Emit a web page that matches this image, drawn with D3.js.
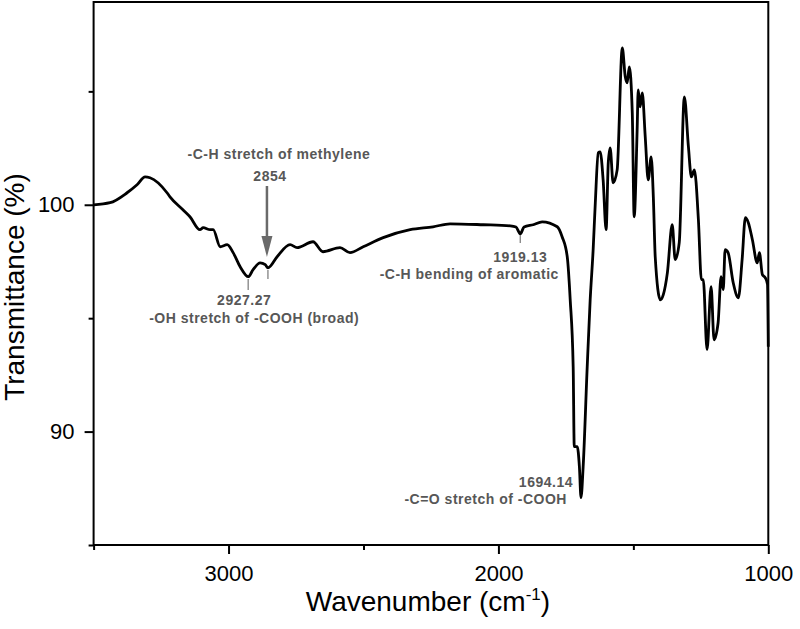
<!DOCTYPE html>
<html>
<head>
<meta charset="utf-8">
<script src="https://cdn.jsdelivr.net/npm/d3@7"></script>
<style>
  html, body { margin: 0; padding: 0; background: #fff; }
  svg { display: block; }
  text { font-family: "Liberation Sans", Arial, sans-serif; }
</style>
</head>
<body>
<svg id="chart" width="800" height="629"></svg>
<script>
// ---- data (wavenumber cm-1, transmittance %) ----
const wavenumber = [3500,3439,3376,3339,3309,3291,3228,3217,3169,3143,3106,3094,3068,3057,3031,3005,2983,2957,2927,2909,2883,2864,2854,2820,2772,2746,2687,2650,2587,2550,2501,2427,2327,2242,2179,2056,1956,1935,1919,1905,1871,1838,1782,1764,1745,1734,1723,1719,1708,1700,1694,1686,1671,1660,1649,1641,1630,1623,1612,1601,1593,1586,1575,1560,1541,1530,1523,1515,1504,1497,1486,1482,1475,1467,1456,1445,1434,1426,1419,1400,1389,1374,1356,1345,1330,1311,1296,1285,1274,1259,1248,1241,1227,1212,1201,1186,1175,1167,1160,1149,1130,1111,1097,1085,1074,1059,1041,1033,1022,1011,1003,1000];
const transmittance = [100.0,100.09,100.53,100.88,101.23,101.19,100.53,100.35,99.78,99.47,98.90,98.99,98.90,98.90,98.15,98.24,97.89,97.27,96.83,97.14,97.44,97.36,97.22,97.71,98.24,98.11,98.37,97.93,98.11,97.89,98.15,98.55,98.90,99.03,99.16,99.12,99.07,99.02,98.72,99.02,99.12,99.25,99.03,98.59,97.71,95.81,92.86,89.34,89.34,88.46,87.09,88.46,92.86,95.81,98.02,100.09,102.29,102.33,101.10,98.90,101.85,102.51,100.97,101.54,106.92,105.64,105.37,106.08,104.05,99.47,103.30,105.07,104.32,104.93,103.00,101.10,102.11,100.35,97.71,95.81,96.04,97.00,99.12,97.58,98.33,104.76,102.56,101.23,101.54,99.34,96.70,96.70,93.61,96.39,94.05,94.80,96.83,96.26,98.02,97.89,96.56,95.90,97.58,99.43,99.21,98.46,97.44,97.89,96.92,96.78,96.5,93.74];

const xMajorTicks = [3000, 2000, 1000];
const xMinorTicks = [3500, 2500, 1500];
const yMajorTicks = [90, 100];
const yMinorTicks = [85, 95, 105];

const xTitle = "Wavenumber (cm";
const xTitleSup = "-1";
const yTitle = "Transmittance (%)";

const annotations = {
  methyleneLabel: "-C-H  stretch of methylene",
  methyleneValue: "2854",
  ohValue: "2927.27",
  ohLabel: "-OH stretch of -COOH (broad)",
  aromValue: "1919.13",
  aromLabel: "-C-H bending of aromatic",
  coValue: "1694.14",
  coLabel: "-C=O stretch of -COOH"
};
const markWn = { methylene: 2854, oh: 2927.27, arom: 1919.13, co: 1694.14 };

// ---- layout ----
const svg = d3.select("#chart");
const L = 93.6, R = 768.3, T = 2, B = 545;
const x = d3.scaleLinear().domain([3500, 1000]).range([L, R]);
const y = d3.scaleLinear().domain([85, 108.94]).range([B, T]);

// frame
svg.append("rect").attr("x", L).attr("y", T).attr("width", R - L).attr("height", B - T)
  .attr("fill", "none").attr("stroke", "#000").attr("stroke-width", 2);

// x axis
const xAxisG = svg.append("g").attr("transform", `translate(0,${B})`);
xAxisG.call(d3.axisBottom(x).tickValues(xMajorTicks).tickSize(9).tickPadding(11).tickFormat(d3.format("d")));
xAxisG.append("g").call(d3.axisBottom(x).tickValues(xMinorTicks).tickSize(5).tickFormat(""));
xAxisG.selectAll(".domain").remove();
xAxisG.selectAll("line").attr("stroke", "#000").attr("stroke-width", 2);
xAxisG.selectAll("text").attr("font-size", 22).attr("fill", "#000")
  .style("font-family", '"Liberation Sans", Arial, sans-serif');

// y axis
const yAxisG = svg.append("g").attr("transform", `translate(${L},0)`);
yAxisG.call(d3.axisLeft(y).tickValues(yMajorTicks).tickSize(9).tickPadding(10).tickFormat(d3.format("d")));
yAxisG.append("g").call(d3.axisLeft(y).tickValues(yMinorTicks).tickSize(5).tickFormat(""));
yAxisG.selectAll(".domain").remove();
yAxisG.selectAll("line").attr("stroke", "#000").attr("stroke-width", 2);
yAxisG.selectAll("text").attr("font-size", 22).attr("fill", "#000")
  .style("font-family", '"Liberation Sans", Arial, sans-serif');

// titles
const xt = svg.append("text").attr("x", (L + R) / 2 - 3).attr("y", 611)
  .attr("text-anchor", "middle").attr("font-size", 28).attr("fill", "#000");
xt.append("tspan").text(xTitle);
xt.append("tspan").attr("dy", -11).attr("font-size", 17).text(xTitleSup);
xt.append("tspan").attr("dy", 11).text(")");

svg.append("text").attr("transform", `translate(24,${287}) rotate(-90)`)
  .attr("text-anchor", "middle").attr("font-size", 28).attr("fill", "#000").text(yTitle);

// spectrum
const data = wavenumber.map((w, i) => ({ w, t: transmittance[i] }));
svg.append("path").datum(data)
  .attr("fill", "none").attr("stroke", "#000").attr("stroke-width", 2.8)
  .attr("stroke-linejoin", "round")
  .attr("d", d3.line().x(d => x(d.w)).y(d => y(d.t)).curve(d3.curveMonotoneX));

// annotations
const grey = "#575757";
const ann = svg.append("g").attr("font-weight", "bold").attr("font-size", 14)
  .attr("letter-spacing", 0.5).attr("fill", grey)
  .style("white-space", "pre");

const xm = x(markWn.methylene);
ann.append("text").attr("x", xm + 11).attr("y", 159).attr("text-anchor", "middle").text(annotations.methyleneLabel);
ann.append("text").attr("x", xm + 2).attr("y", 181).attr("text-anchor", "middle").text(annotations.methyleneValue);
// arrow
svg.append("line").attr("x1", xm - 1).attr("x2", xm - 1).attr("y1", 186).attr("y2", 240)
  .attr("stroke", "#6a6a6a").attr("stroke-width", 2.5);
svg.append("path").attr("d", `M${xm - 6.5},236 L${xm + 4.5},236 L${xm - 1},257 Z`).attr("fill", "#6a6a6a");
// small marker lines
svg.append("line").attr("x1", xm).attr("x2", xm).attr("y1", 270).attr("y2", 279)
  .attr("stroke", "#777").attr("stroke-width", 1.2);

const xo = x(markWn.oh);
svg.append("line").attr("x1", xo).attr("x2", xo).attr("y1", 279).attr("y2", 290)
  .attr("stroke", "#777").attr("stroke-width", 1.2);
ann.append("text").attr("x", xo - 4).attr("y", 305).attr("text-anchor", "middle").text(annotations.ohValue);
ann.append("text").attr("x", xo + 6).attr("y", 323).attr("text-anchor", "middle").text(annotations.ohLabel);

const xa = x(markWn.arom);
svg.append("line").attr("x1", xa).attr("x2", xa).attr("y1", 235).attr("y2", 243)
  .attr("stroke", "#777").attr("stroke-width", 1.2);
ann.append("text").attr("x", xa).attr("y", 262).attr("text-anchor", "middle").text(annotations.aromValue);
ann.append("text").attr("x", xa - 51).attr("y", 279).attr("text-anchor", "middle").text(annotations.aromLabel);

const xc = x(markWn.co);
ann.append("text").attr("x", xc - 8).attr("y", 487).attr("text-anchor", "end").text(annotations.coValue);
ann.append("text").attr("x", xc - 14).attr("y", 504).attr("text-anchor", "end").text(annotations.coLabel);
</script>
</body>
</html>
